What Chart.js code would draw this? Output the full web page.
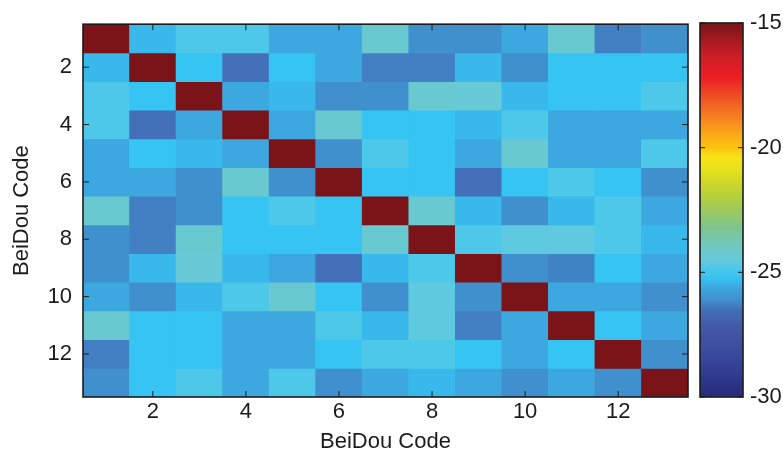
<!DOCTYPE html>
<html>
<head>
<meta charset="utf-8">
<script src="https://cdn.jsdelivr.net/npm/chart.js@4.4.1/dist/chart.umd.min.js"></script>
<style>
  html, body { margin: 0; padding: 0; background: #fff; }
  #wrap    { position: relative; width: 783px; height: 456px; }
  #heatBox { position: absolute; left: 0;     top: 0; width: 700px; height: 456px; }
  #cbarBox { position: absolute; left: 690px; top: 0; width: 93px;  height: 456px; }
</style>
</head>
<body>
<div id="wrap">
  <div id="heatBox"><canvas id="heat"></canvas></div>
  <div id="cbarBox"><canvas id="cbar"></canvas></div>
</div>
<script>
/* ================================================
   BeiDou code cross-correlation heatmap (dB)
   13 x 13 matrix + jet-style colour bar
================================================ */

/* ── DATA ── */
const codes     = [1, 2, 3, 4, 5, 6, 7, 8, 9, 10, 11, 12, 13];
const xTicks    = [2, 4, 6, 8, 10, 12];
const yTicks    = [2, 4, 6, 8, 10, 12];
const cbarTicks = [-30, -25, -20, -15];
const cbarMin   = -30;
const cbarMax   = -15;

// one row per code on the y axis (top to bottom), one column per code on the x axis
const corr = [
  [-15.0, -25.35, -24.85, -24.85, -25.6, -25.6, -24.3, -26.1, -26.1, -25.6, -24.3, -26.3, -26.1],
  [-25.35, -15.0, -25.2, -26.5, -25.2, -25.6, -26.3, -26.3, -25.35, -26.1, -25.2, -25.2, -25.2],
  [-24.85, -25.2, -15.0, -25.6, -25.35, -26.1, -26.1, -24.3, -24.4, -25.35, -25.2, -25.2, -24.85],
  [-24.85, -26.5, -25.6, -15.0, -25.6, -24.3, -25.2, -25.2, -25.35, -24.85, -25.6, -25.6, -25.6],
  [-25.6, -25.2, -25.35, -25.6, -15.0, -26.1, -24.85, -25.2, -25.6, -24.3, -25.6, -25.6, -24.85],
  [-25.6, -25.6, -26.1, -24.3, -26.1, -15.0, -25.2, -25.2, -26.5, -25.2, -24.85, -25.2, -26.1],
  [-24.3, -26.3, -26.1, -25.2, -24.85, -25.2, -15.0, -24.3, -25.35, -26.1, -25.35, -24.85, -25.6],
  [-26.1, -26.3, -24.3, -25.2, -25.2, -25.2, -24.3, -15.0, -24.85, -24.6, -24.6, -24.85, -25.35],
  [-26.1, -25.35, -24.4, -25.35, -25.6, -26.5, -25.35, -24.85, -15.0, -26.1, -26.25, -25.2, -25.6],
  [-25.6, -26.1, -25.35, -24.85, -24.3, -25.2, -26.1, -24.6, -26.1, -15.0, -25.6, -25.6, -26.1],
  [-24.3, -25.2, -25.2, -25.6, -25.6, -24.85, -25.35, -24.6, -26.3, -25.6, -15.0, -25.2, -25.6],
  [-26.3, -25.2, -25.2, -25.6, -25.6, -25.2, -24.85, -24.85, -25.2, -25.6, -25.2, -15.0, -26.1],
  [-26.1, -25.2, -24.85, -25.6, -24.85, -26.1, -25.6, -25.35, -25.6, -26.1, -25.6, -26.1, -15.0],
];

/* ── COLOUR MAP ── */
const cmapValues = [-30.0, -29.2, -28.2, -27.2, -26.5, -26.1, -25.6, -25.2, -24.8, -24.5, -24.0,
                    -23.2, -22.4, -21.6, -20.8, -20.4, -20.0, -19.5, -18.8, -18.0, -17.2, -16.4, -15.7, -15.0];
const cmapColors = ['#262a7a', '#2e3a8e', '#3b4b9c', '#4259a6', '#4370b8', '#4090ce', '#3da8e0', '#36c4f2',
                    '#50c8e8', '#66cada', '#6ec8c4', '#7ec58c', '#a2ca55', '#c4d52e', '#e8e21a', '#f7e316',
                    '#fdc40f', '#faaa17', '#f58220', '#ef5323', '#ec1e24', '#d01e25', '#a51a20', '#7a1418'];

const hexRgb = h => [1, 3, 5].map(i => parseInt(h.slice(i, i + 2), 16));

function colorFor(v) {
  if (v <= cmapValues[0]) return cmapColors[0];
  for (let i = 1; i < cmapValues.length; i++) {
    if (v <= cmapValues[i]) {
      const t = (v - cmapValues[i - 1]) / (cmapValues[i] - cmapValues[i - 1]);
      const a = hexRgb(cmapColors[i - 1]), b = hexRgb(cmapColors[i]);
      const c = a.map((x, k) => Math.round(x + (b[k] - x) * t));
      return `rgb(${c[0]},${c[1]},${c[2]})`;
    }
  }
  return cmapColors[cmapColors.length - 1];
}

/* ── Shared look ── */
const INK = '#1c1c1c';
Chart.defaults.font.family = "'Liberation Sans', Arial, Helvetica, sans-serif";
Chart.defaults.font.size   = 22;
Chart.defaults.color       = INK;
Chart.defaults.animation   = false;

// MATLAB style box + inward tick marks
const boxPlugin = {
  id: 'matlabBox',
  afterDraw(chart, args, opts) {
    const { ctx, chartArea: a } = chart;
    const len = opts.tickLen || 6;
    ctx.save();
    ctx.strokeStyle = INK;
    ctx.lineWidth = 1;
    ctx.beginPath();
    (opts.xTicks || []).forEach(v => {
      const px = chart.scales.x.getPixelForValue(v);
      ctx.moveTo(px, a.top);    ctx.lineTo(px, a.top + len);
      ctx.moveTo(px, a.bottom); ctx.lineTo(px, a.bottom - len);
    });
    (opts.yTicks || []).forEach(v => {
      const py = chart.scales.y.getPixelForValue(v);
      ctx.moveTo(a.left, py);  ctx.lineTo(a.left + len, py);
      ctx.moveTo(a.right, py); ctx.lineTo(a.right - len, py);
    });
    ctx.stroke();
    ctx.lineWidth = 1.6;
    ctx.strokeRect(a.left, a.top, a.right - a.left, a.bottom - a.top);
    ctx.restore();
  },
};

const setTicks = list => scale => { scale.ticks = list.map(v => ({ value: v })); };

/* ── Heatmap: one floating-bar dataset per row ── */
new Chart(document.getElementById('heat'), {
  type: 'bar',
  data: {
    datasets: corr.map((row, r) => ({
      data: row.map((v, c) => ({ x: codes[c], y: [codes[r] - 0.5, codes[r] + 0.5] })),
      backgroundColor: row.map(colorFor),
      borderWidth: 0,
      grouped: false,
      barPercentage: 1,
      categoryPercentage: 1,
    })),
  },
  options: {
    responsive: true,
    maintainAspectRatio: false,
    layout: { padding: { top: 22, right: 12, left: 0, bottom: 0 } },
    plugins: {
      legend: { display: false },
      tooltip: { enabled: false },
      matlabBox: { xTicks, yTicks, tickLen: 6 },
    },
    scales: {
      x: {
        type: 'linear',
        offset: false,
        min: codes[0] - 0.5,
        max: codes[codes.length - 1] + 0.5,
        afterBuildTicks: setTicks(xTicks),
        afterFit: s => { s.height = 59; },
        grid: { display: false, drawTicks: false, offset: false },
        border: { display: false },
        ticks: { padding: 2, maxRotation: 0 },
        title: { display: true, text: 'BeiDou Code', padding: { top: 0, bottom: 1 } },
      },
      y: {
        type: 'linear',
        reverse: true,
        min: codes[0] - 0.5,
        max: codes[codes.length - 1] + 0.5,
        afterBuildTicks: setTicks(yTicks),
        afterFit: s => { s.width = 83; },
        grid: { display: false, drawTicks: false },
        border: { display: false },
        ticks: { padding: 11 },
        title: { display: true, text: 'BeiDou Code', padding: { top: 9, bottom: 0 } },
      },
    },
  },
  plugins: [boxPlugin],
});

/* ── Colour bar: one floating bar with the colour map as gradient ── */
new Chart(document.getElementById('cbar'), {
  type: 'bar',
  data: {
    labels: [''],
    datasets: [{
      data: [[cbarMin, cbarMax]],
      borderWidth: 0,
      barPercentage: 1,
      categoryPercentage: 1,
      backgroundColor(ctx) {
        const y = ctx.chart.scales.y;
        if (!y || !ctx.chart.chartArea) return cmapColors[0];
        const y0 = y.getPixelForValue(cbarMin), y1 = y.getPixelForValue(cbarMax);
        if (!isFinite(y0) || !isFinite(y1)) return cmapColors[0];
        const g = ctx.chart.ctx.createLinearGradient(0, y0, 0, y1);
        cmapValues.forEach((v, i) => g.addColorStop((v - cbarMin) / (cbarMax - cbarMin), cmapColors[i]));
        return g;
      },
    }],
  },
  options: {
    responsive: true,
    maintainAspectRatio: false,
    layout: { padding: { top: 23, right: 0, left: 10, bottom: 59 } },
    plugins: {
      legend: { display: false },
      tooltip: { enabled: false },
      matlabBox: { xTicks: [], yTicks: cbarTicks, tickLen: 5 },
    },
    scales: {
      x: { display: false },
      y: {
        position: 'right',
        min: cbarMin,
        max: cbarMax,
        afterBuildTicks: setTicks(cbarTicks),
        afterFit: s => { s.width = 40; },
        grid: { display: false, drawTicks: false },
        border: { display: false },
        ticks: { padding: 7 },
      },
    },
  },
  plugins: [boxPlugin],
});
</script>
</body>
</html>
